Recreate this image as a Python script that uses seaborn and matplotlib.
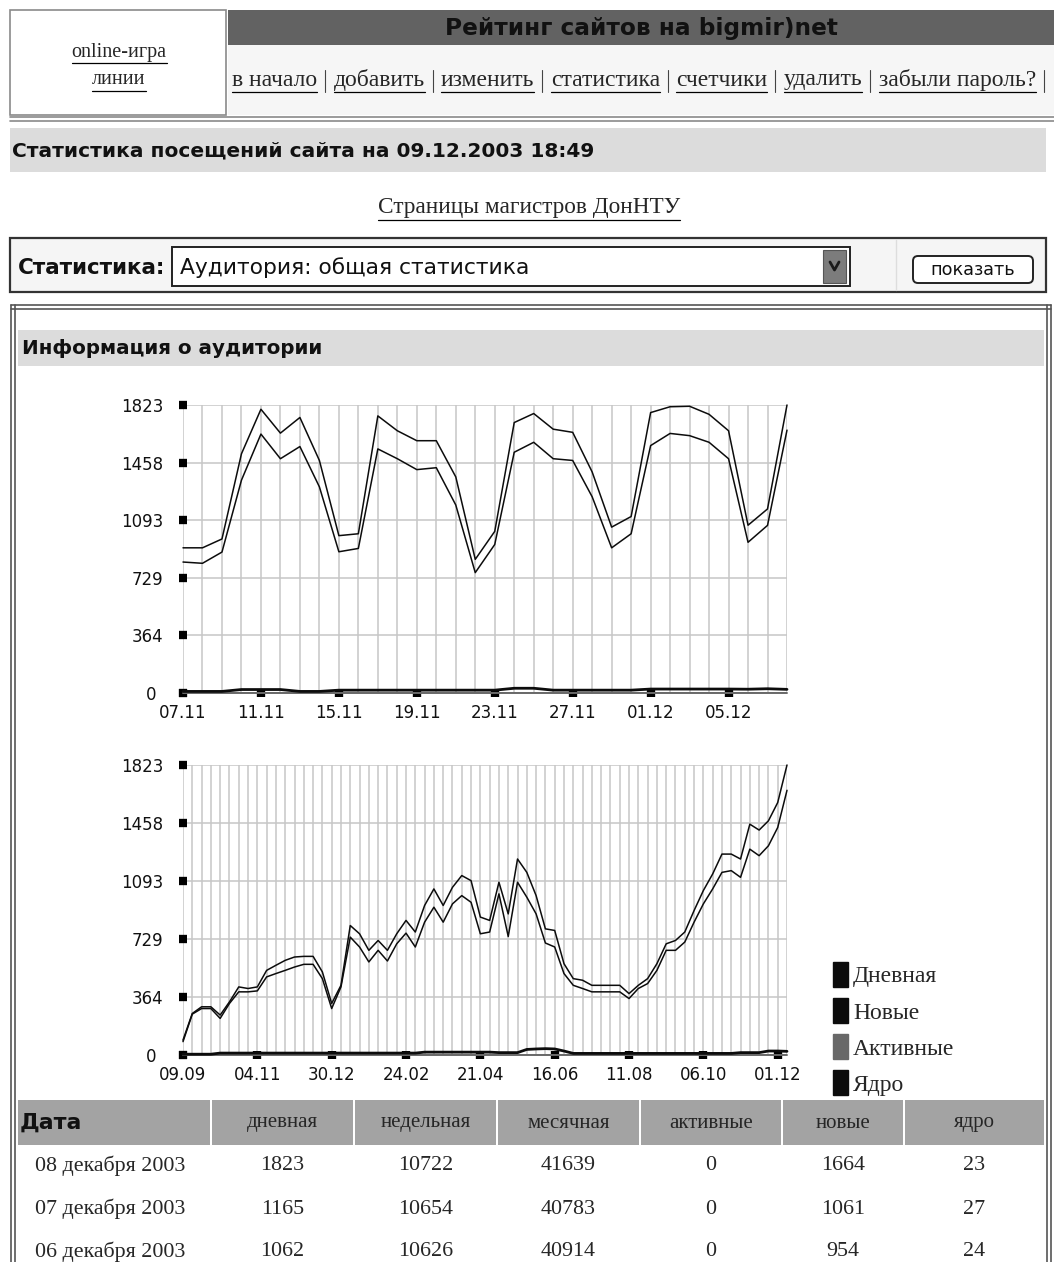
import pandas as pd
import matplotlib
matplotlib.use("Agg")
import matplotlib.pyplot as plt
import seaborn as sns
from matplotlib import font_manager
from matplotlib.patches import Rectangle, FancyBboxPatch, Patch

W, H = 1054, 1262

# --- график 1: по дням, 07.11 - 08.12.2003
dni = pd.date_range("2003-11-07", "2003-12-08", freq="D")
dnevnaya_d = [919, 919, 975, 1514, 1796, 1645, 1744, 1472, 996, 1008, 1754, 1660, 1597, 1597, 1368, 846,
              1023, 1712, 1769, 1670, 1650, 1399, 1050, 1117, 1775, 1812, 1815, 1764, 1660, 1062, 1165, 1823]
novye_d = [829, 821, 892, 1347, 1639, 1483, 1560, 1305, 894, 915, 1545, 1483, 1414, 1426, 1190, 762,
           940, 1524, 1587, 1483, 1472, 1242, 919, 1008, 1566, 1643, 1629, 1587, 1483, 954, 1061, 1664]
aktivnye_d = [0] * 32
yadro_d = [10, 10, 10, 22, 22, 22, 10, 10, 18, 18, 18, 18, 18, 18, 18, 18,
           18, 30, 30, 18, 18, 18, 18, 18, 25, 25, 25, 25, 25, 24, 27, 23]

# --- график 2: по неделям, 09.09.2002 - 08.12.2003
nedeli = pd.date_range("2002-09-09", "2003-12-08", freq="7D")
dnevnaya_n = [94, 261, 303, 303, 251, 334, 428, 418, 428, 532, 564, 595, 616, 620, 620, 522, 324,
              438, 814, 762, 658, 720, 658, 762, 846, 773, 940, 1044, 940, 1054, 1128, 1096, 867,
              846, 1086, 887, 1232, 1148, 1002, 793, 783, 574, 480, 470, 438, 438, 438, 438, 386,
              438, 480, 574, 699, 720, 773, 908, 1034, 1138, 1263, 1263, 1232, 1451, 1414, 1472,
              1587, 1823]
novye_n = [84, 257, 292, 292, 230, 324, 397, 397, 403, 491, 512, 532, 553, 570, 570, 480, 292,
           428, 741, 679, 585, 658, 591, 699, 766, 679, 835, 929, 835, 950, 1002, 960, 762,
           773, 1013, 745, 1086, 992, 887, 704, 679, 512, 438, 418, 397, 397, 397, 397, 355,
           418, 449, 532, 658, 658, 710, 835, 950, 1044, 1148, 1159, 1117, 1294, 1253, 1315,
           1430, 1664]
aktivnye_n = [0] * 66
yadro_n = [5, 5, 5, 5, 12, 12, 12, 12, 12, 12, 12, 12, 12, 12, 12, 12, 12,
           12, 12, 12, 12, 12, 12, 12, 12, 12, 18, 18, 18, 18, 18, 18, 18,
           18, 15, 15, 15, 35, 38, 40, 38, 25, 10, 10, 10, 10, 10, 10, 10,
           10, 10, 10, 10, 10, 10, 10, 10, 10, 10, 10, 15, 15, 15, 25,
           25, 23]

Y_TICKS = [0, 364, 729, 1093, 1458, 1823]

LEGENDA = ["Дневная", "Новые", "Активные", "Ядро"]
CORES = {"Дневная": "#0c0c0c", "Новые": "#0c0c0c", "Активные": "#686868", "Ядро": "#0c0c0c"}
LARG = {"Дневная": 1.1, "Новые": 1.1, "Активные": 1.4, "Ядро": 2.0}

# --- таблица
TAB_COLS = ["дневная", "недельная", "месячная", "активные", "новые", "ядро"]
TAB_DATAS = ["08 декабря 2003", "07 декабря 2003", "06 декабря 2003"]
TAB_VALS = [[1823, 10722, 41639, 0, 1664, 23],
            [1165, 10654, 40783, 0, 1061, 27],
            [1062, 10626, 40914, 0, 954, 24]]

LINKS = ["в начало", "добавить", "изменить", "статистика", "счетчики", "удалить", "забыли пароль?"]

sns.set_style("white")
nomes = {f.name for f in font_manager.fontManager.ttflist}
NARROW = "Liberation Sans Narrow" if "Liberation Sans Narrow" in nomes else "DejaVu Sans"
SERIF = "Liberation Serif"
plt.rcParams["font.family"] = ["DejaVu Sans"]

fig = plt.figure(figsize=(W / 100, H / 100), dpi=100)
page = fig.add_axes([0, 0, 1, 1])
page.set_xlim(0, W)
page.set_ylim(H, 0)
page.axis("off")
page.set_autoscale_on(False)
R = fig.canvas.get_renderer()


def px(x0, y0, x1, y1):
    return [x0 / W, 1 - y1 / H, (x1 - x0) / W, (y1 - y0) / H]


def medir(s, **kw):
    t = page.text(0, 0, s, **kw)
    w = t.get_window_extent(R).width
    t.remove()
    return w


def texto(x, y, s, largura=None, size=12, sub=False, ha="left", **kw):
    if largura:
        size = size * largura / medir(s, fontsize=size, **kw)
    t = page.text(x, y, s, fontsize=size, ha=ha, va="center", **kw)
    bb = t.get_window_extent(R)
    if sub:
        yy = H - bb.y0 + 1
        page.plot([bb.x0, bb.x1], [yy, yy], color=kw.get("color", "#000"), lw=0.9)
    return bb, size


def caixa(x0, y0, x1, y1, **kw):
    page.add_patch(Rectangle((x0, y0), x1 - x0, y1 - y0, **kw))


# --- шапка
caixa(10, 10, 226, 115, facecolor="white", edgecolor="#8a8a8a", lw=1.2)
caixa(228, 10, W, 45, facecolor="#626262", edgecolor="none")
caixa(228, 45, W, 115, facecolor="#f6f6f6", edgecolor="none")
texto(641, 28, "Рейтинг сайтов на bigmir)net", largura=390, family=NARROW, weight="bold",
      ha="center", color="#111")
_, s_top = texto(119, 52, "online-игра", largura=95, family=SERIF, sub=True, ha="center")
texto(119, 80, "линии", size=s_top, family=SERIF, sub=True, ha="center")

s_link = 12 * 818 / medir(" | ".join(LINKS) + " |", fontsize=12, family=SERIF)
x = 232
for w in LINKS:
    bb, _ = texto(x, 80, w, size=s_link, family=SERIF, sub=True)
    x = bb.x1
    x += medir(" | ", fontsize=s_link, family=SERIF)
    page.plot([x - medir("| ", fontsize=s_link, family=SERIF) + 2] * 2, [70, 92], color="#444", lw=0.8)

page.plot([10, W], [117, 117], color="#8a8a8a", lw=1.2)
page.plot([10, W], [121, 121], color="#8a8a8a", lw=1.2)

caixa(10, 128, 1046, 172, facecolor="#dcdcdc", edgecolor="none")
texto(12, 151, "Статистика посещений сайта на 09.12.2003 18:49", largura=580,
      family=NARROW, weight="bold", color="#111")

texto(529, 208, "Страницы магистров ДонНТУ", largura=302, family=SERIF, sub=True, ha="center")

# --- выбор статистики
caixa(10, 238, 1046, 292, facecolor="#f5f5f5", edgecolor="#333", lw=1.6)
texto(18, 268, "Статистика:", largura=147, family=NARROW, weight="bold", color="#111")
caixa(172, 247, 850, 286, facecolor="white", edgecolor="#222", lw=1.4)
texto(180, 268, "Аудитория: общая статистика", largura=348, family=NARROW, color="#111")
caixa(823, 250, 846, 283, facecolor="#7c7c7c", edgecolor="#555", lw=0.8)
page.plot([830, 834.5, 839], [262, 270, 262], color="#1a1a1a", lw=2)
page.plot([896, 896], [240, 290], color="#dddddd", lw=1)
page.add_patch(FancyBboxPatch((913, 256), 120, 27, boxstyle="round,pad=0,rounding_size=5",
                              facecolor="white", edgecolor="#222", lw=1.4))
texto(973, 270, "показать", largura=84, family=NARROW, ha="center", color="#111")

# --- рамка блока
for xx in (11, 15, 1047, 1051):
    page.plot([xx, xx], [305, H], color="#555", lw=1.2)
for yy in (305, 309):
    page.plot([11, 1051], [yy, yy], color="#555", lw=1.2)
caixa(18, 330, 1044, 366, facecolor="#dcdcdc", edgecolor="none")
texto(22, 348, "Информация о аудитории", largura=300, family=NARROW, weight="bold", color="#111")


def grafik(rect, x, dados, passo):
    ax = fig.add_axes(px(*rect))
    for nome in ["Активные", "Ядро", "Новые", "Дневная"]:
        sns.lineplot(x=x, y=dados[nome], color=CORES[nome], linewidth=LARG[nome], ax=ax, clip_on=False)
    ax.set_xlim(x[0], x[-1])
    ax.set_ylim(0, Y_TICKS[-1])
    ax.set_yticks(Y_TICKS)
    ax.set_yticklabels([str(v) for v in Y_TICKS])
    ax.set_xticks(x[::passo])
    ax.set_xticklabels([d.strftime("%d.%m") for d in x[::passo]])
    ax.set_xticks(x, minor=True)
    ax.set_xlabel("")
    ax.set_ylabel("")
    ax.grid(True, which="both", axis="x", color="#c6c6c6", lw=1.1)
    ax.grid(True, which="major", axis="y", color="#c6c6c6", lw=1.1)
    ax.set_axisbelow(True)
    for sp in ax.spines.values():
        sp.set_visible(False)
    ax.tick_params(which="major", bottom=True, left=True, direction="inout", length=6, width=6,
                   color="black", labelsize=12, labelcolor="#111")
    ax.tick_params(axis="y", pad=11)
    ax.tick_params(axis="x", pad=5)
    ax.tick_params(which="minor", bottom=False, left=False, length=0)
    for t in ax.get_yticklabels():
        if t.get_text() == "0":
            t.set_x(-0.012)
            t.set_y(-60)
    return ax


ax1 = grafik((183, 405, 787, 693), dni,
             {"Дневная": dnevnaya_d, "Новые": novye_d, "Активные": aktivnye_d, "Ядро": yadro_d}, 4)
ax2 = grafik((183, 765, 787, 1055), nedeli,
             {"Дневная": dnevnaya_n, "Новые": novye_n, "Активные": aktivnye_n, "Ядро": yadro_n}, 8)

ax2.legend(handles=[Patch(facecolor=CORES[n], edgecolor=CORES[n], label=n) for n in LEGENDA],
           loc="lower left", bbox_to_anchor=(1.076, -0.14), frameon=False,
           prop={"family": SERIF, "size": 17}, handlelength=0.64, handleheight=1.25,
           handletextpad=0.22, labelspacing=0.45, borderpad=0, borderaxespad=0)

# --- таблица
BORDAS = [17, 211, 354, 497, 640, 782, 904, 1045]
for j in range(len(BORDAS) - 1):
    caixa(BORDAS[j] + 1, 1100, BORDAS[j + 1] - 1, 1145, facecolor="#a3a3a3", edgecolor="none")
s_tab = 12 * 150 / medir(TAB_DATAS[0], fontsize=12, family=SERIF)
texto(20, 1123, "Дата", largura=62, family=NARROW, weight="bold", color="#111")
for j, c in enumerate(TAB_COLS):
    texto((BORDAS[j + 1] + BORDAS[j + 2]) / 2, 1123, c, size=s_tab * 0.95, family=SERIF, ha="center")
for i, (d, vals) in enumerate(zip(TAB_DATAS, TAB_VALS)):
    y = 1166 + i * 43
    texto(110, y, d, size=s_tab, family=SERIF, ha="center")
    for j, v in enumerate(vals):
        texto((BORDAS[j + 1] + BORDAS[j + 2]) / 2, y, str(v), size=s_tab, family=SERIF, ha="center")

fig.savefig("out.png", dpi=100, facecolor="white")
